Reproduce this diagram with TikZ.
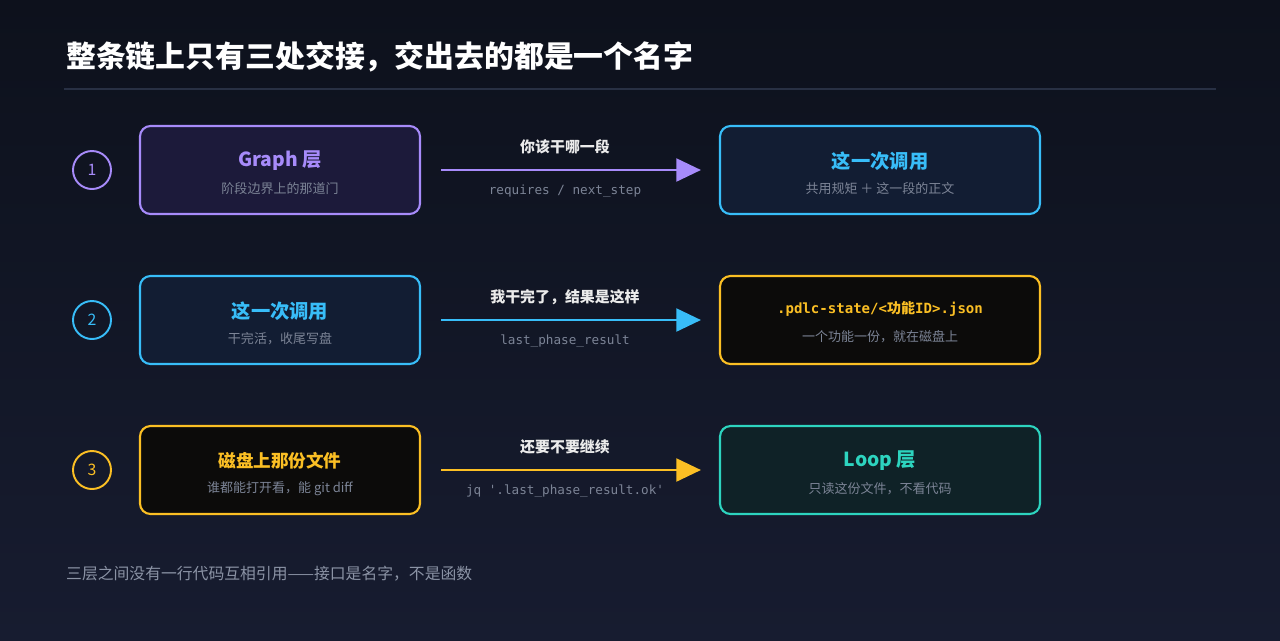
\documentclass[tikz,border=0pt]{standalone}
\usepackage{fontspec}
\setmainfont{Noto Sans CJK SC}
\setmonofont{DejaVu Sans Mono}
\newfontfamily\cjkfont{Noto Sans CJK SC}
\usetikzlibrary{arrows.meta,positioning}
\definecolor{bgtop}{HTML}{0D111C}
\definecolor{bgbot}{HTML}{171C30}
\definecolor{cpur}{HTML}{A78BFA}
\definecolor{cblu}{HTML}{38BDF8}
\definecolor{camb}{HTML}{FBBF24}
\definecolor{ctea}{HTML}{2DD4BF}
\definecolor{fpur}{HTML}{1C1A3A}
\definecolor{fblu}{HTML}{121D33}
\definecolor{famb}{HTML}{0C0B0A}
\definecolor{ftea}{HTML}{0F2227}
\definecolor{subg}{HTML}{7C8496}
\definecolor{rule}{HTML}{283044}
\definecolor{foot}{HTML}{8B93A5}
\begin{document}
\begin{tikzpicture}[x=0.02cm,y=-0.02cm,
  box/.style={draw=#1,line width=1.2pt,rounded corners=6pt,minimum width=280*0.02cm,minimum height=88*0.02cm},
  wbox/.style={box=#1,minimum width=320*0.02cm},
  num/.style={circle,draw=#1,line width=1.1pt,minimum size=38*0.02cm,inner sep=0pt,text=#1,font=\fontsize{9}{9}\selectfont},
  flow/.style={draw=#1,line width=1.5pt,shorten <=20*0.02cm,shorten >=18*0.02cm,-{Triangle[length=14pt,width=13pt]}},
  ttl/.style={font=\fontsize{11}{12}\selectfont\bfseries,text=#1},
  sub/.style={font=\fontsize{7.4}{8}\selectfont,text=subg},
  lbl/.style={font=\fontsize{8.5}{9}\selectfont\bfseries,text=white!92!black},
  code/.style={font=\fontsize{7.2}{8}\ttfamily,text=subg}]
  \shade[top color=bgtop,bottom color=bgbot] (0,0) rectangle (1280,640);
  \useasboundingbox (0,0) rectangle (1280,640);
  \node[anchor=west,text=white,font=\fontsize{17}{19}\selectfont\bfseries] (title) at (60,57) {整条链上只有三处交接，交出去的都是一个名字};
  \draw[rule,line width=0.8pt] (64,89) -- (1216,89);

  % row 1
  \node[num=cpur] (n1) at (92,170) {1};
  \node[box=cpur,fill=fpur] (l1) at (280,170) {};
  \node[ttl=cpur] at (280,161) {Graph 层};
  \node[sub] at (280,189) {阶段边界上的那道门};
  \node[wbox=cblu,fill=fblu] (r1) at (880,170) {};
  \node[ttl=cblu] at (880,161) {这一次调用};
  \node[sub] at (880,189) {共用规矩 ＋ 这一段的正文};
  \draw[flow=cpur] (l1.east) -- (r1.west);
  \node[lbl] at (565,147) {你该干哪一段};
  \node[code] at (565,191) {requires / next\_step};

  % row 2
  \node[num=cblu] (n2) at (92,320) {2};
  \node[box=cblu,fill=fblu] (l2) at (280,320) {};
  \node[ttl=cblu] at (280,311) {这一次调用};
  \node[sub] at (280,339) {干完活，收尾写盘};
  \node[wbox=camb,fill=famb] (r2) at (880,320) {};
  \node[text=camb,font=\fontsize{8}{9}\ttfamily\bfseries] at (880,309) {.pdlc-state/<{\cjkfont\bfseries 功能}ID>.json};
  \node[sub] at (880,337) {一个功能一份，就在磁盘上};
  \draw[flow=cblu] (l2.east) -- (r2.west);
  \node[lbl] at (565,297) {我干完了，结果是这样};
  \node[code] at (565,341) {last\_phase\_result};

  % row 3
  \node[num=camb] (n3) at (92,470) {3};
  \node[box=camb,fill=famb] (l3) at (280,470) {};
  \node[ttl=camb,font=\fontsize{10}{11}\selectfont\bfseries] at (280,461) {磁盘上那份文件};
  \node[sub] at (280,489) {谁都能打开看，能 git diff};
  \node[wbox=ctea,fill=ftea] (r3) at (880,470) {};
  \node[ttl=ctea] at (880,461) {Loop 层};
  \node[sub] at (880,489) {只读这份文件，不看代码};
  \draw[flow=camb] (l3.east) -- (r3.west);
  \node[lbl] at (565,447) {还要不要继续};
  \node[code] at (565,491) {jq '.last\_phase\_result.ok'};

  \node[anchor=west,text=foot,font=\fontsize{9}{10}\selectfont] (note) at (60,574) {三层之间没有一行代码互相引用——接口是名字，不是函数};
\end{tikzpicture}
\end{document}
